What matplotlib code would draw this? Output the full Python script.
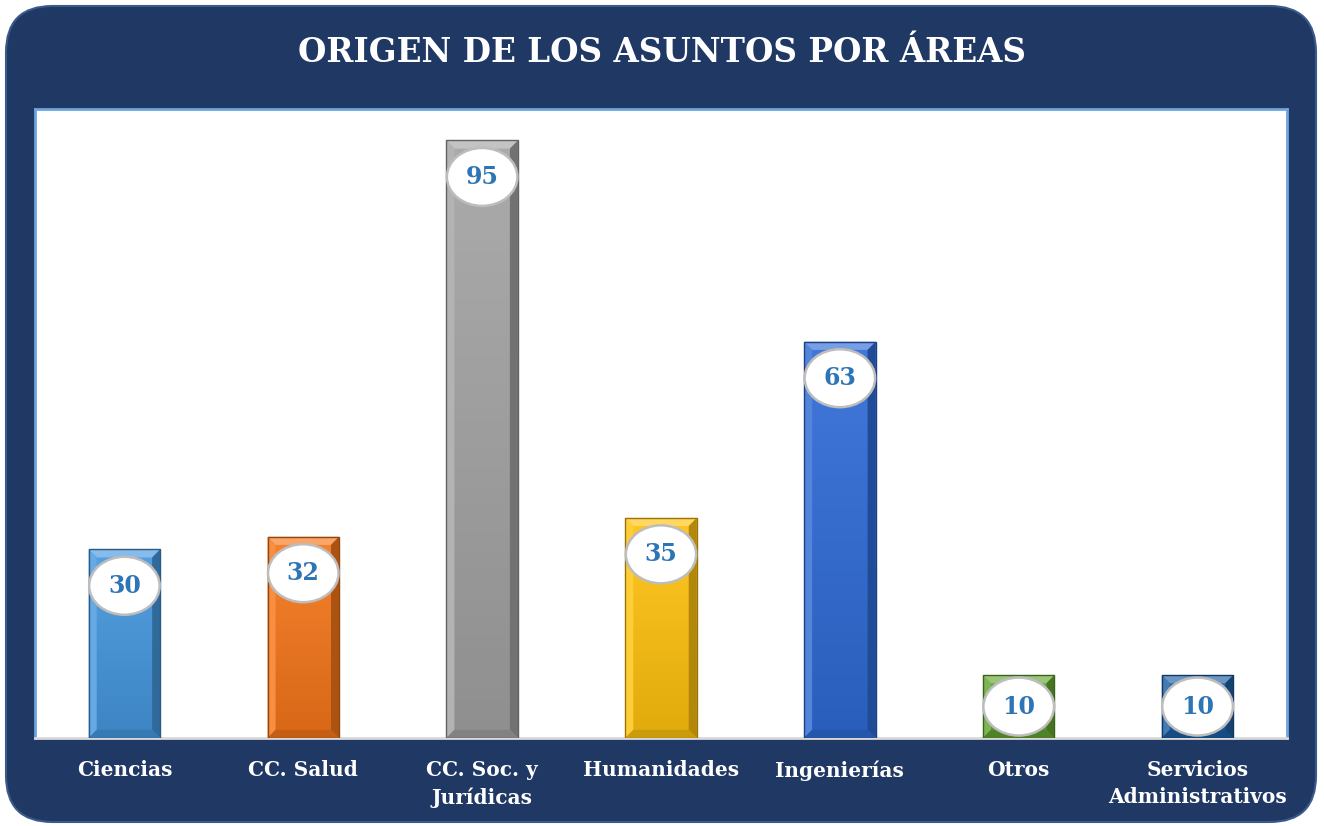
import numpy as np
import matplotlib.pyplot as plt
import matplotlib.colors as mcolors
from matplotlib.patches import FancyBboxPatch, Polygon

# datos
areas = ['Ciencias', 'CC. Salud', 'CC. Soc. y\nJurídicas', 'Humanidades',
         'Ingenierías', 'Otros', 'Servicios\nAdministrativos']
asuntos = [30, 32, 95, 35, 63, 10, 10]
colores = ['#4597DE', '#F5761A', '#A3A3A3', '#FFC20E', '#2F6BD6', '#62A531', '#1D5FA3']

navy = '#203864'
serif = ['DejaVu Serif']

fig = plt.figure(figsize=(13.24, 8.26), dpi=100)
fig.patch.set_facecolor('white')

# fondo redondeado
fondo = FancyBboxPatch((6 / 1324, 4 / 826), 1310 / 1324, 816 / 826,
                       boxstyle='round,pad=0,rounding_size=0.035',
                       transform=fig.transFigure, facecolor=navy,
                       edgecolor='#3A5A8C', linewidth=1.5, zorder=-5,
                       mutation_aspect=1324 / 826)
fig.patches.append(fondo)

fig.text(0.5, 1 - 52 / 826, 'ORIGEN DE LOS ASUNTOS POR ÁREAS', ha='center', va='center',
         color='white', fontsize=23.5, fontweight='bold', family=serif)

ax = fig.add_axes([35 / 1324, 88 / 826, 1252 / 1324, 629 / 826])
ax.set_zorder(2)
ax.set_facecolor('white')
x = np.arange(len(areas))
ax.set_xlim(-0.5, len(areas) - 0.5)
ax.set_ylim(0, 100)

ancho = 0.40
barras = ax.bar(x, asuntos, width=ancho, color=colores, zorder=2)

bx = 0.045  # bisel horizontal (datos)
by = 1.3    # bisel vertical (datos)
for b, c in zip(barras, colores):
    x0, w, h = b.get_x(), b.get_width(), b.get_height()
    base = np.array(mcolors.to_rgb(c))
    claro = np.clip(base + (1 - base) * 0.35, 0, 1)
    oscuro = base * 0.7
    # degradado vertical en la cara
    grad = np.linspace(0, 1, 64)[:, None, None]
    img = claro * 0.25 + base * 0.75
    img = (1 - grad) * (base * 0.88) + grad * img
    im = ax.imshow(img, extent=(x0, x0 + w, 0, h), origin='lower', aspect='auto', zorder=2)
    im.set_clip_path(b)
    # biseles
    ax.add_patch(Polygon([(x0, h), (x0 + w, h), (x0 + w - bx, h - by), (x0 + bx, h - by)],
                         closed=True, facecolor=claro, edgecolor='none', zorder=3))
    ax.add_patch(Polygon([(x0, 0), (x0, h), (x0 + bx, h - by), (x0 + bx, by)],
                         closed=True, facecolor=claro * 0.5 + base * 0.5, edgecolor='none', zorder=3))
    ax.add_patch(Polygon([(x0 + w, 0), (x0 + w, h), (x0 + w - bx, h - by), (x0 + w - bx, by)],
                         closed=True, facecolor=oscuro, edgecolor='none', zorder=3))
    ax.add_patch(Polygon([(x0, 0), (x0 + w, 0), (x0 + w - bx, by), (x0 + bx, by)],
                         closed=True, facecolor=base * 0.8, edgecolor='none', zorder=3))
    ax.add_patch(Polygon([(x0, 0), (x0, h), (x0 + w, h), (x0 + w, 0)], closed=True,
                         facecolor='none', edgecolor=base * 0.6, linewidth=1, zorder=3))

# etiquetas en elipse
for xi, v in zip(x, asuntos):
    ax.text(xi, max(v - 5.8, v / 2), str(v), ha='center', va='center', zorder=5,
            color='#2E75B6', fontsize=17, fontweight='bold', family=serif,
            bbox=dict(boxstyle='ellipse,pad=0.36', facecolor='white',
                      edgecolor='#BDBDBD', linewidth=1.8))

ax.set_xticks(x)
ax.set_xticklabels(areas, color='white', fontsize=14.5, fontweight='bold', family=serif,
                   linespacing=1.45, va='top')
ax.tick_params(axis='x', length=0, pad=16)
ax.set_yticks([])
for s in ['left', 'top', 'right']:
    ax.spines[s].set_color('#6FA3DC')
    ax.spines[s].set_linewidth(2)
ax.spines['bottom'].set_color('#D9D9D9')
ax.spines['bottom'].set_linewidth(2)

fig.savefig('out.png', dpi=100)
